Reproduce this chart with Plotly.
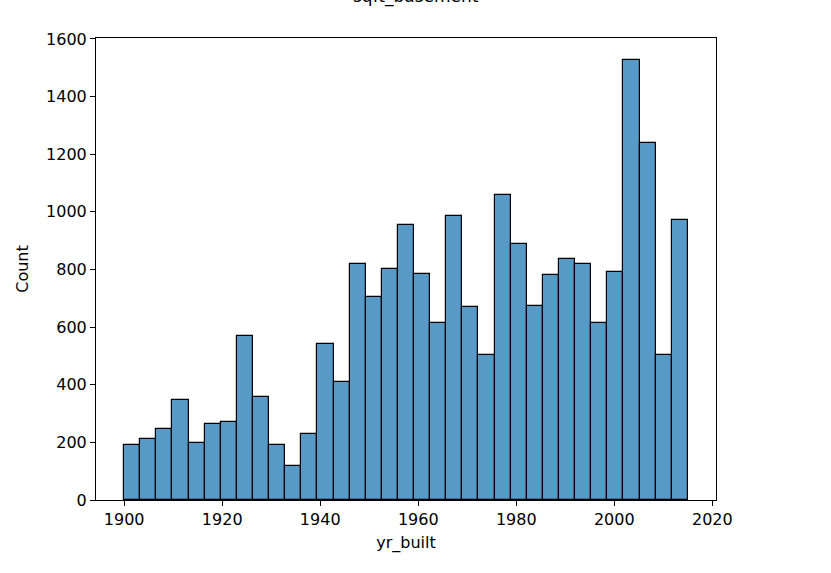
import plotly.graph_objects as go

# Histogram of yr_built: 35 equal bins from 1900 to 2015
bin_start = 1900
bin_end = 2015
n_bins = 35
counts = [191, 212, 248, 347, 199, 264, 269, 570, 356, 191,
          118, 229, 543, 409, 819, 704, 803, 953, 785, 616,
          984, 669, 504, 1060, 889, 674, 782, 837, 819, 613,
          790, 1527, 1240, 504, 972]
x_ticks = [1900, 1920, 1940, 1960, 1980, 2000, 2020]
y_ticks = [0, 200, 400, 600, 800, 1000, 1200, 1400, 1600]
title_text = "sqft_basement"
x_label = "yr_built"
y_label = "Count"

width = (bin_end - bin_start) / n_bins
centers = [bin_start + (i + 0.5) * width for i in range(n_bins)]

font = dict(family="DejaVu Sans", size=16, color="#000000")

fig = go.Figure(go.Bar(
    x=centers, y=counts, width=[width] * n_bins,
    marker=dict(color="#5799c7", line=dict(color="#000000", width=1.2)),
    hoverinfo="x+y",
))

pad = 0.05 * (bin_end - bin_start)
fig.update_layout(
    width=831, height=573,
    margin=dict(l=96, r=115, t=38, b=73),
    paper_bgcolor="white", plot_bgcolor="white",
    font=font, showlegend=False, bargap=0,
    annotations=[dict(text=title_text, xref="paper", yref="paper",
                      x=(415.5 - 96) / (831 - 96 - 115), y=1 + (38 - 9) / 462,
                      xanchor="center", yanchor="bottom", showarrow=False,
                      font=dict(family="DejaVu Sans", size=17, color="#000000"))],
)
fig.update_xaxes(
    range=[bin_start - pad, bin_end + pad], tickvals=x_ticks,
    ticks="outside", ticklen=5, tickcolor="#000000",
    showline=True, linecolor="#000000", linewidth=1, mirror=True,
    showgrid=False, zeroline=False,
    title=dict(text=x_label, standoff=8, font=font),
)
fig.update_yaxes(
    range=[0, max(counts) * 1.05], tickvals=y_ticks,
    ticks="outside", ticklen=5, tickcolor="#000000",
    showline=True, linecolor="#000000", linewidth=1, mirror=True,
    showgrid=False, zeroline=False,
    title=dict(text=y_label, standoff=13, font=font),
)

fig.write_html("out.html", config={"displayModeBar": False},
               post_script="document.body.style.margin='0';document.body.style.padding='0';")
